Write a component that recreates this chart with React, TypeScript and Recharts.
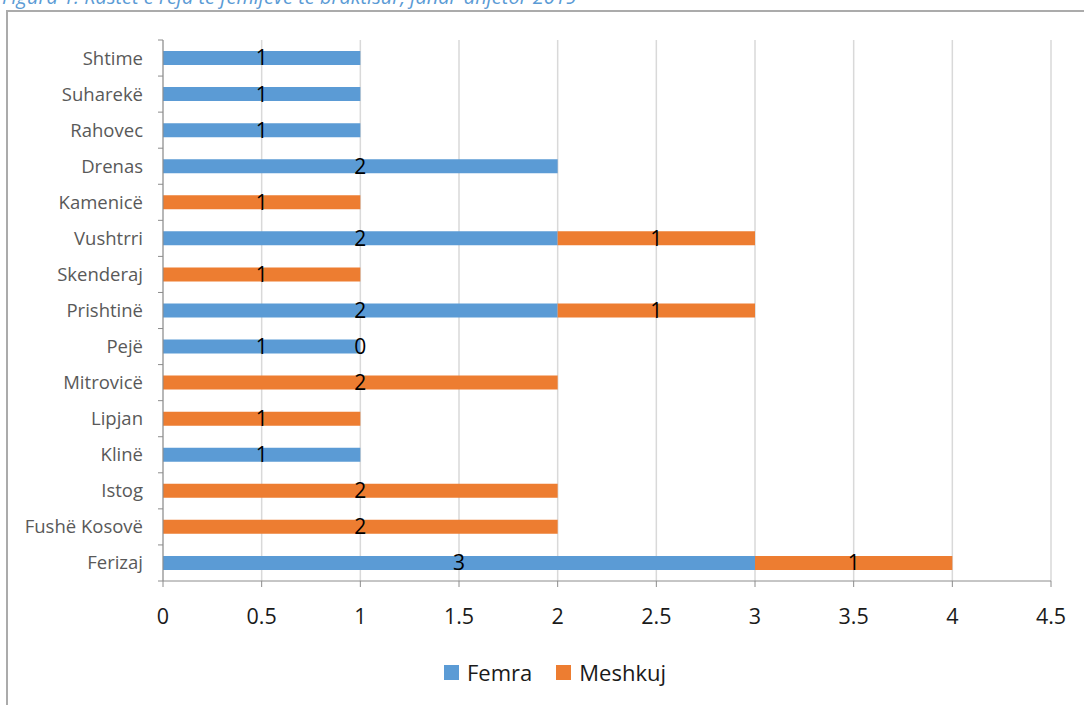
import { Bar, BarChart, CartesianGrid, LabelList, XAxis, YAxis } from "recharts";

const cities = [
  "Shtime",
  "Suharekë",
  "Rahovec",
  "Drenas",
  "Kamenicë",
  "Vushtrri",
  "Skenderaj",
  "Prishtinë",
  "Pejë",
  "Mitrovicë",
  "Lipjan",
  "Klinë",
  "Istog",
  "Fushë Kosovë",
  "Ferizaj",
];
const femra = [1, 1, 1, 2, null, 2, null, 2, 1, null, null, 1, null, null, 3];
const meshkuj = [null, null, null, null, 1, 1, 1, 1, 0, 2, 1, null, 2, 2, 1];
const xTicks = [0, 0.5, 1, 1.5, 2, 2.5, 3, 3.5, 4, 4.5];

const data = cities.map((name, i) => ({
  name,
  femra: femra[i],
  meshkuj: meshkuj[i],
}));

const FONT = "'Open Sans', sans-serif";
const BLUE = "#5b9bd5";
const ORANGE = "#ed7d31";
const AXIS = "#8c8c8c";
const PLOT_TOP = 40;
const PLOT_BOTTOM = 581;
const BAND = (PLOT_BOTTOM - PLOT_TOP) / cities.length;

const CityTick = (props: any) => {
  const { x, y, payload, index } = props;
  const axisX = x + 20;
  return (
    <g>
      <line x1={axisX - 5} x2={axisX} y1={y - BAND / 2} y2={y - BAND / 2} stroke={AXIS} />
      {index === cities.length - 1 && (
        <line x1={axisX - 5} x2={axisX} y1={y + BAND / 2} y2={y + BAND / 2} stroke={AXIS} />
      )}
      <text x={x} y={y} dy="0.35em" textAnchor="end" fill="#595959" fontSize={18.5}>
        {payload.value}
      </text>
    </g>
  );
};

// empty cells get no label, but a real 0 does
const showValue = (v: any) => (v === null || v === undefined ? "" : String(v));

const LegendItem = ({ color, label }: { color: string; label: string }) => (
  <div style={{ display: "flex", alignItems: "center", marginRight: 24 }}>
    <div style={{ width: 15, height: 15, background: color, marginRight: 8 }} />
    <span>{label}</span>
  </div>
);

export default function App() {
  return (
    <div
      style={{
        position: "absolute",
        left: 0,
        top: 0,
        width: 1084,
        height: 705,
        overflow: "hidden",
        background: "#fff",
        fontFamily: FONT,
      }}
    >
      <div
        style={{
          position: "absolute",
          left: 2,
          top: -13,
          fontSize: 20,
          lineHeight: "20px",
          fontStyle: "italic",
          color: BLUE,
          whiteSpace: "nowrap",
        }}
      >
        Figura 1. Rastet e reja të fëmijëve të braktisur, janar-dhjetor 2019
      </div>
      <div
        style={{
          position: "absolute",
          left: 6,
          top: 10,
          width: 1100,
          height: 720,
          border: "2px solid #ababab",
        }}
      />
      <div style={{ position: "absolute", left: 0, top: 0 }}>
        <BarChart
          width={1084}
          height={705}
          data={data}
          layout="vertical"
          margin={{ top: PLOT_TOP, right: 33, bottom: 94, left: 0 }}
          style={{ fontFamily: FONT }}
        >
          <CartesianGrid horizontal={false} stroke="#d9d9d9" strokeWidth={1.5} />
          <XAxis
            type="number"
            domain={[0, 4.5]}
            ticks={xTicks}
            interval={0}
            height={30}
            stroke={AXIS}
            tickSize={6}
            tickMargin={22}
            tick={{ fill: "#1a1a1a", fontSize: 21.5 }}
          />
          <YAxis
            type="category"
            dataKey="name"
            width={163}
            stroke={AXIS}
            tickLine={false}
            tickSize={5}
            tickMargin={15}
            interval={0}
            tick={<CityTick />}
          />
          <Bar dataKey="femra" stackId="a" fill={BLUE} barSize={14} isAnimationActive={false}>
            <LabelList dataKey="femra" position="center" formatter={showValue} fill="#000" fontSize={21} />
          </Bar>
          <Bar
            dataKey="meshkuj"
            stackId="a"
            fill={ORANGE}
            barSize={14}
            minPointSize={0.01}
            isAnimationActive={false}
          >
            <LabelList dataKey="meshkuj" position="center" formatter={showValue} fill="#000" fontSize={21} />
          </Bar>
        </BarChart>
      </div>
      <div
        style={{
          position: "absolute",
          left: 444,
          top: 657,
          height: 30,
          display: "flex",
          alignItems: "center",
          fontSize: 22,
          color: "#1a1a1a",
        }}
      >
        <LegendItem color={BLUE} label="Femra" />
        <LegendItem color={ORANGE} label="Meshkuj" />
      </div>
    </div>
  );
}
